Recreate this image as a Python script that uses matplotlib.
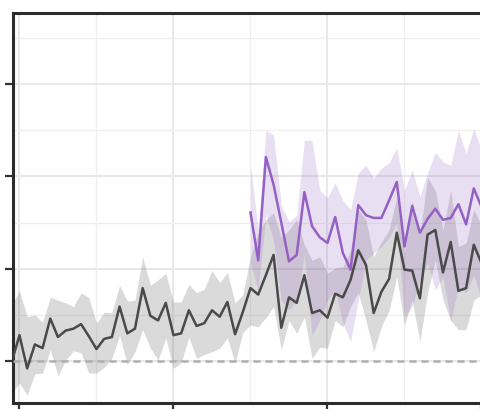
import numpy as np
import matplotlib

matplotlib.use("Agg")
import matplotlib.pyplot as plt
from matplotlib.ticker import MultipleLocator

# Gray series: one value per step, steps -1 .. 61
gray_x = np.arange(-1, 62)
gray_mean = [-0.01, 0.28, -0.08, 0.18, 0.14, 0.46, 0.26, 0.33, 0.35, 0.40, 0.27,
             0.13, 0.24, 0.26, 0.59, 0.30, 0.35, 0.79, 0.49, 0.44, 0.63,
             0.28, 0.30, 0.55, 0.38, 0.41, 0.55, 0.48, 0.64, 0.29, 0.53,
             0.79, 0.72, 0.93, 1.15, 0.36, 0.69, 0.63, 0.93, 0.52, 0.55,
             0.47, 0.73, 0.69, 0.88, 1.20, 1.04, 0.52, 0.75, 0.89, 1.39,
             0.99, 0.98, 0.68, 1.37, 1.42, 0.96, 1.29, 0.76, 0.79, 1.26,
             1.06, 0.90]
gray_hi = [0.61, 0.76, 0.48, 0.50, 0.42, 0.69, 0.66, 0.63, 0.59, 0.74, 0.69,
           0.41, 0.53, 0.52, 0.82, 0.65, 0.66, 1.13, 0.82, 0.88, 0.95,
           0.64, 0.64, 0.83, 0.74, 0.78, 0.98, 0.85, 0.96, 0.63, 0.72,
           1.13, 1.39, 1.53, 1.61, 1.34, 1.42, 1.53, 1.26, 1.09, 1.13,
           0.95, 1.01, 1.02, 1.20, 1.64, 1.53, 1.13, 1.29, 1.42, 1.78,
           1.17, 1.74, 1.37, 1.99, 1.85, 1.42, 1.85, 1.24, 1.28, 1.64,
           1.47, 1.31]
gray_lo = [-0.34, -0.24, -0.37, -0.14, -0.13, 0.12, -0.16, 0.01, 0.11, 0.09, -0.13,
           -0.13, -0.07, 0.03, 0.28, -0.04, 0.10, 0.34, 0.14, 0.01, 0.25,
           -0.08, -0.02, 0.26, 0.03, 0.07, 0.10, 0.14, 0.25, -0.02, 0.31,
           0.39, 0.37, 0.47, 0.59, 0.12, 0.44, 0.30, 0.48, 0.03, 0.15,
           0.14, 0.44, 0.37, 0.59, 0.74, 0.44, 0.10, 0.37, 0.55, 0.91,
           0.39, 0.66, 0.21, 0.74, 1.09, 0.66, 0.44, 0.34, 0.34, 0.66,
           0.72, 0.44]

# Purple series: starts at step 30
purple_x = np.arange(30, 62)
purple_mean = [1.61, 1.09, 2.21, 1.91, 1.50, 1.08, 1.15, 1.83, 1.46, 1.34,
               1.28, 1.56, 1.17, 0.99, 1.69, 1.58, 1.55, 1.55, 1.74, 1.94,
               1.24, 1.68, 1.39, 1.54, 1.65, 1.53, 1.55, 1.70, 1.48, 1.87,
               1.67, 1.47]
purple_hi = [2.12, 1.42, 2.50, 2.45, 1.69, 1.51, 1.58, 2.39, 2.39, 1.85,
             1.77, 1.93, 1.74, 1.64, 2.04, 2.12, 1.98, 2.09, 2.15, 2.31,
             1.85, 2.07, 1.78, 2.04, 2.26, 2.16, 2.12, 2.50, 2.25, 2.52,
             2.29, 2.12]
purple_lo = [1.06, 0.77, 1.58, 1.31, 0.66, 0.55, 0.66, 1.15, 0.28, 0.44,
             0.66, 0.77, 0.41, 0.21, 0.66, 1.09, 1.17, 1.24, 1.34, 1.50,
             0.48, 0.59, 0.88, 1.06, 0.77, 0.91, 0.44, 0.80, 0.74, 0.93,
             0.66, 0.77]

reference_y = 0.0

GRAY = "#4a4a4a"
PURPLE = "#9560c4"

fig = plt.figure(figsize=(4.81, 4.09), dpi=100)
# the panel is cropped: right spine and tick labels fall outside the canvas
ax = fig.add_axes([13.3 / 481, 5.7 / 409, 483.6 / 481, 390.6 / 409])

ax.fill_between(gray_x, gray_lo, gray_hi, color=GRAY, alpha=0.2,
                linewidth=0, zorder=2)
ax.fill_between(purple_x, purple_lo, purple_hi, color=PURPLE, alpha=0.2,
                linewidth=0, zorder=2)
ax.axhline(reference_y, color="#b0b0b0", linewidth=1.8,
           linestyle=(0, (2.8, 2.0)), zorder=3)
ax.plot(gray_x, gray_mean, color=GRAY, linewidth=1.8, zorder=4)
ax.plot(purple_x, purple_mean, color=PURPLE, linewidth=1.8, zorder=5)

ax.set_xlim(-0.8, 62)
ax.set_ylim(-0.458, 3.774)
ax.xaxis.set_major_locator(MultipleLocator(20))
ax.xaxis.set_minor_locator(MultipleLocator(10))
ax.yaxis.set_major_locator(MultipleLocator(1))
ax.yaxis.set_minor_locator(MultipleLocator(0.5))

ax.grid(True, which="major", color="#e8e8e8", linewidth=1.4, zorder=0)
ax.grid(True, which="minor", color="#efefef", linewidth=0.9, zorder=0)
ax.set_axisbelow(True)

for side in ("left", "top", "bottom", "right"):
    ax.spines[side].set_color("#2b2b2b")
    ax.spines[side].set_linewidth(2.2)

ax.tick_params(which="major", length=5.5, width=1.6, color="#333333",
               labelleft=False, labelbottom=False)
ax.tick_params(which="minor", length=0)

fig.savefig("out.png", dpi=100)
